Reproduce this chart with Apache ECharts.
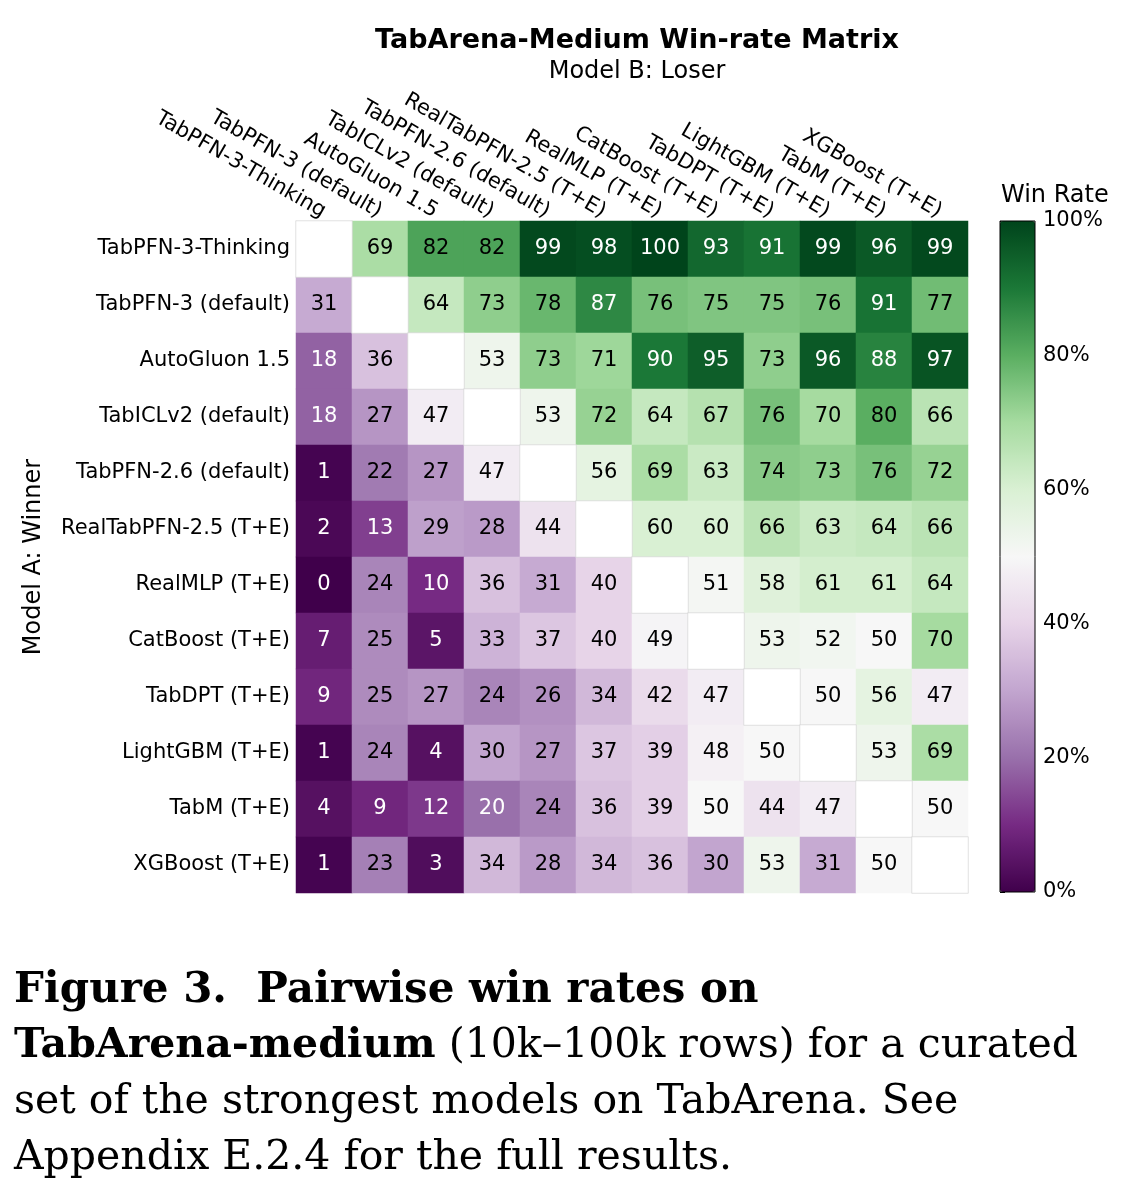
<!DOCTYPE html>
<html>
<head>
<meta charset="utf-8">
<script src="https://cdn.jsdelivr.net/npm/echarts@6/dist/echarts.min.js"></script>
<style>
  html, body { margin: 0; padding: 0; background: #fff; }
  #chart { width: 1125px; height: 1200px; }
</style>
</head>
<body>
<div id="chart"></div>
<script>
// model names, same order for rows (winner) and columns (loser)
var models = [
  'TabPFN-3-Thinking',
  'TabPFN-3 (default)',
  'AutoGluon 1.5',
  'TabICLv2 (default)',
  'TabPFN-2.6 (default)',
  'RealTabPFN-2.5 (T+E)',
  'RealMLP (T+E)',
  'CatBoost (T+E)',
  'TabDPT (T+E)',
  'LightGBM (T+E)',
  'TabM (T+E)',
  'XGBoost (T+E)'
];

// win rate (%) of row model against column model, null on the diagonal
var winRates = [
  [null, 69, 82, 82, 99, 98, 100, 93, 91, 99, 96, 99],
  [31, null, 64, 73, 78, 87, 76, 75, 75, 76, 91, 77],
  [18, 36, null, 53, 73, 71, 90, 95, 73, 96, 88, 97],
  [18, 27, 47, null, 53, 72, 64, 67, 76, 70, 80, 66],
  [1, 22, 27, 47, null, 56, 69, 63, 74, 73, 76, 72],
  [2, 13, 29, 28, 44, null, 60, 60, 66, 63, 64, 66],
  [0, 24, 10, 36, 31, 40, null, 51, 58, 61, 61, 64],
  [7, 25, 5, 33, 37, 40, 49, null, 53, 52, 50, 70],
  [9, 25, 27, 24, 26, 34, 42, 47, null, 50, 56, 47],
  [1, 24, 4, 30, 27, 37, 39, 48, 50, null, 53, 69],
  [4, 9, 12, 20, 24, 36, 39, 50, 44, 47, null, 50],
  [1, 23, 3, 34, 28, 34, 36, 30, 53, 31, 50, null]
];

// PRGn colormap stops
var prgn = ['#40004b', '#762a83', '#9970ab', '#c2a5cf', '#e7d4e8', '#f7f7f7',
            '#d9f0d3', '#a6dba0', '#5aae61', '#1b7837', '#00441b'];

var cells = [], diagonal = [];
winRates.forEach(function (row, i) {
  row.forEach(function (v, j) {
    if (v === null) {
      diagonal.push([j, i, 0]);
    } else {
      cells.push({
        value: [j, i, v],
        label: { color: (v >= 85 || v <= 20) ? '#fff' : '#000' }
      });
    }
  });
});

var font = 'DejaVu Sans';
var serif = 'DejaVu Serif';

var chart = echarts.init(document.getElementById('chart'));
var option = {
  backgroundColor: '#fff',
  animation: false,
  title: {
    text: 'TabArena-Medium Win-rate Matrix',
    subtext: 'Model B: Loser',
    left: 632,
    top: 22,
    textAlign: 'center',
    itemGap: 6,
    textStyle: { fontFamily: font, fontSize: 27, fontWeight: 'bold', color: '#000' },
    subtextStyle: { fontFamily: font, fontSize: 24, color: '#000' }
  },
  grid: [
    { left: 296, top: 221, width: 672, height: 672 },
    { left: 1000, top: 221, width: 35, height: 671, show: true,
      borderColor: '#000', borderWidth: 1, backgroundColor: 'transparent', z: 10 }
  ],
  xAxis: [
    {
      type: 'category',
      data: models,
      position: 'top',
      axisLine: { show: false },
      axisTick: { show: false },
      splitLine: { show: false },
      axisLabel: {
        interval: 0,
        rotate: 30,
        align: 'right',
        verticalAlign: 'middle',
        margin: 8,
        fontFamily: font,
        fontSize: 21,
        color: '#000'
      }
    },
    { gridIndex: 1, type: 'value', show: false, min: 0, max: 1 }
  ],
  yAxis: [
    {
      type: 'category',
      data: models,
      inverse: true,
      name: 'Model A: Winner',
      nameLocation: 'middle',
      nameRotate: 90,
      nameGap: 250,
      nameTextStyle: { fontFamily: font, fontSize: 24, color: '#000' },
      axisLine: { show: false },
      axisTick: { show: false },
      splitLine: { show: false },
      axisLabel: { interval: 0, margin: 6, fontFamily: font, fontSize: 21, color: '#000' }
    },
    {
      gridIndex: 1,
      type: 'value',
      position: 'right',
      min: 0,
      max: 100,
      interval: 20,
      axisLine: { show: false },
      splitLine: { show: false },
      axisTick: { show: true, length: 5, lineStyle: { color: '#000', width: 1 } },
      axisLabel: { formatter: '{value}%', margin: 8, fontFamily: font, fontSize: 21, color: '#000' }
    }
  ],
  visualMap: {
    type: 'continuous',
    seriesIndex: 0,
    min: 0,
    max: 100,
    orient: 'vertical',
    left: 1000,
    top: 221,
    itemWidth: 35,
    itemHeight: 671,
    padding: 0,
    calculable: false,
    hoverLink: false,
    text: null,
    showLabel: false,
    inRange: { color: prgn }
  },
  series: [
    {
      type: 'heatmap',
      data: cells,
      label: {
        show: true,
        fontFamily: font,
        fontSize: 21,
        formatter: function (p) { return p.value[2]; }
      },
      itemStyle: { borderWidth: 0 },
      emphasis: { disabled: true }
    },
    {
      type: 'heatmap',
      data: diagonal,
      label: { show: false },
      itemStyle: { color: '#fff', borderColor: '#d4d4d4', borderWidth: 0.7 },
      emphasis: { disabled: true }
    }
  ],
  graphic: [
    {
      type: 'text', left: 1055 - 54, top: 184,
      style: { text: 'Win Rate', fontFamily: font, fontSize: 24, fill: '#000' }
    },
    {
      type: 'text', x: 14, y: 991,
      style: {
        text: '{b|Figure 3.  Pairwise win rates on}',
        rich: { b: { fontWeight: 'bold', fontFamily: serif, fontSize: 42 } },
        fontFamily: serif, fontSize: 41, fill: '#000', verticalAlign: 'middle'
      }
    },
    {
      type: 'text', x: 14, y: 1046,
      style: {
        text: '{b|TabArena-medium} (10k\u2013100k rows) for a curated',
        rich: { b: { fontWeight: 'bold', fontFamily: serif, fontSize: 41 } },
        fontFamily: serif, fontSize: 41, fill: '#000', verticalAlign: 'middle'
      }
    },
    {
      type: 'text', x: 14, y: 1102,
      style: {
        text: 'set of the strongest models on TabArena. See',
        fontFamily: serif, fontSize: 41, fill: '#000', verticalAlign: 'middle'
      }
    },
    {
      type: 'text', x: 14, y: 1158,
      style: {
        text: 'Appendix E.2.4 for the full results.',
        fontFamily: serif, fontSize: 41, fill: '#000', verticalAlign: 'middle'
      }
    }
  ]
};

option && chart.setOption(option);
</script>
</body>
</html>
